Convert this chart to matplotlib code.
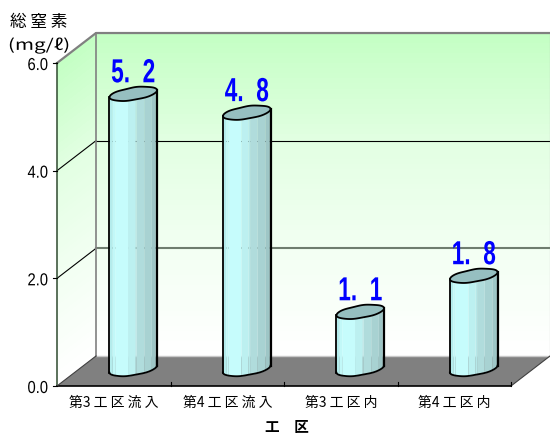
import numpy as np
import matplotlib
matplotlib.use("Agg")
import matplotlib.pyplot as plt
import matplotlib.patheffects as pe
from matplotlib.transforms import Affine2D
from matplotlib.colors import LinearSegmentedColormap

categories = ["第3 工 区 流 入", "第4 工 区 流 入", "第3 工 区 内", "第4 工 区 内"]
values = [5.15, 4.8, 1.1, 1.77]
value_labels = ["5.  2", "4.  8", "1.  1", "1.  8"]
y_ticks = [0.0, 2.0, 4.0, 6.0]

FONT = ["Noto Sans CJK JP", "DejaVu Sans"]
LATIN = ["Liberation Sans"]
W, H = 550, 434
X0, Y0, SX, SY = 57.0, 386.0, 113.5, 53.83
DX, DY = 39.0 / SX, 30.0 / SY   # depth in data units


class XScale(pe.AbstractPathEffect):
    """Condense or widen a text horizontally about a given display x."""

    def __init__(self, sx, cx):
        super().__init__()
        self.sx, self.cx = sx, cx

    def draw_path(self, renderer, gc, tpath, affine, rgbFace=None):
        aff = affine + Affine2D().translate(-self.cx, 0).scale(self.sx, 1).translate(self.cx, 0)
        renderer.draw_path(gc, tpath, aff, rgbFace)


fig = plt.figure(figsize=(W / 100, H / 100), dpi=100)
ax = fig.add_axes([0, 0, 1, 1])
ax.set_xlim(-X0 / SX, (W - X0) / SX)
ax.set_ylim((Y0 - H) / SY, Y0 / SY)
ax.axis("off")


def disp_x(x):
    return ax.transData.transform((x, 0))[0]


n = len(categories)
ymax = y_ticks[-1]
wall_cmap = LinearSegmentedColormap.from_list("w", ["#ffffff", "#f2fff2", "#e2ffe2", "#c4ffc4"], N=64)

# back wall gradient
yy = np.linspace(0, ymax, 65) + DY
xx = np.array([DX, n + DX])
C = np.linspace(0, 1, 64)[:, None]
ax.pcolormesh(xx, yy, C, cmap=wall_cmap, shading="flat", zorder=1, rasterized=True)

# side wall gradient (sheared)
s = np.linspace(0, 1, 2)
v = np.linspace(0, ymax, 65)
SXm, VYm = np.meshgrid(s, v)
ax.pcolormesh(SXm * DX, VYm + SXm * DY, C, cmap=wall_cmap, shading="flat", zorder=1, rasterized=True)

# floor
ax.fill([0, n, n + DX, DX], [0, 0, DY, DY], color="#808080", zorder=2, lw=0)
ax.plot([DX, n + DX], [DY, DY], color="#c8c8c8", lw=1.0, zorder=2.1)

# grid lines
for t, col, lw in zip(y_ticks[1:-1], ["#6f7d6f", "#000000"], [1.5, 0.8]):
    ax.plot([0, DX], [t, t + DY], color="#000000", lw=0.8, zorder=2.2)
    ax.plot([DX, n + DX], [t + DY, t + DY], color=col, lw=lw, zorder=2.3)

# frame
gray = "#808080"
ax.plot([0, DX, n + DX], [ymax, ymax + DY, ymax + DY], color=gray, lw=1.6, zorder=3, solid_capstyle="projecting")
ax.plot([DX, DX], [DY, ymax + DY], color=gray, lw=1.2, zorder=3)
ax.plot([n + DX, n + DX], [DY, ymax + DY], color="#a0a0a0", lw=0.8, zorder=3)
ax.plot([n, n + DX], [0, DY], color="#404040", lw=0.8, zorder=3)
ax.plot([0, 0], [0, ymax], color="#2f4a2f", lw=1.1, zorder=3)
ax.plot([0, n], [0, 0], color="#000000", lw=1.2, zorder=3)
ax.plot([0, DX], [0, DY], color="#404040", lw=0.8, zorder=3)
for i in range(1, n + 1):
    ax.plot([i, i], [0, 4 / SY], color="#000000", lw=0.8, zorder=3)
for t in y_ticks:
    ax.plot([-4 / SX, 0], [t, t], color="#000000", lw=0.8, zorder=3)
    ax.text(-9 / SX, t - 2.5 / SY, f"{t:.1f}", ha="right", va="center", family=LATIN, fontsize=12.5,
            color="#000000", path_effects=[XScale(0.85, disp_x(-9 / SX))])

# cylinders
half_w = 23.8 / SX
rx = np.array([0, .06, .11, .38, .53, .56, .72, .88, .96, 1.0])
strip_cols = ["#b4ecec", "#c2f8f8", "#c6fcfc", "#bcf0f0", "#b6e8e8", "#b0dcdc", "#a8d2d2", "#9ec6c6", "#93b8b8"]
b_px, tilt_px = 6.2 / SY, 3.5 / SY
base_lift = 2.0 / SY


def top_edge(u):
    return tilt_px * u + b_px * np.sqrt(np.clip(1 - u ** 2, 0, 1)) * (1 + 0.04 * np.sin(2.0 * np.pi * (u + .1)))


def low_edge(u):
    return tilt_px * u - b_px * np.sqrt(np.clip(1 - u ** 2, 0, 1)) * (1 - 0.03 * np.sin(2.0 * np.pi * (u + .1)))


for i, val in enumerate(values):
    cx = i + 0.5 + DX / 2
    top = DY / 2 + val
    base = DY / 2 + base_lift
    u = np.linspace(-1, 1, 121)
    x = cx + u * half_w
    for j in range(len(strip_cols)):
        ue = np.linspace(2 * rx[j] - 1, 2 * rx[j + 1] - 1, 12)
        ax.fill_between(cx + ue * half_w, base + low_edge(ue), top + low_edge(ue),
                        color=strip_cols[j], lw=0, zorder=5)
    ax.plot(x, base + low_edge(u), color="#000000", lw=1.3, zorder=6)
    ax.plot([x[0], x[0]], [base + low_edge(u)[0], top + low_edge(u)[0]], color="#000000", lw=1.3, zorder=6)
    ax.plot([x[-1], x[-1]], [base + low_edge(u)[-1], top + low_edge(u)[-1]], color="#000000", lw=1.6, zorder=6)
    xt = np.r_[x, x[::-1]]
    yt = np.r_[top + low_edge(u), (top + top_edge(u))[::-1]]
    ax.fill(xt, yt, facecolor="#96bfc0", edgecolor="#000000", lw=1.3, zorder=7, joinstyle="round")
    # value label
    ax.text(cx, top + 4.5 / SY, value_labels[i], ha="center", va="bottom", color="#0000ff",
            family=LATIN, fontweight="bold", fontsize=24, zorder=8,
            path_effects=[XScale(0.68, disp_x(cx))])
    # category label
    ax.text(i + 0.5, -16.5 / SY, categories[i], ha="center", va="center", family=FONT, fontsize=10,
            color="#000000", zorder=8)

ax.text(-18.5 / SX, 6.76, "総 窒 素", ha="center", va="center", family=FONT, fontsize=12, color="#000000")
ax.text(-18 / SX, 6.33, "(mg/ℓ)", ha="center", va="center", family=FONT, fontsize=11, color="#000000",
        path_effects=[XScale(1.35, disp_x(-18 / SX))])
ax.text(2.03, -41 / SY, "工　区", ha="center", va="center", family=FONT, fontsize=10.5, fontweight="bold", color="#000000")

fig.savefig("out.png", dpi=100)
